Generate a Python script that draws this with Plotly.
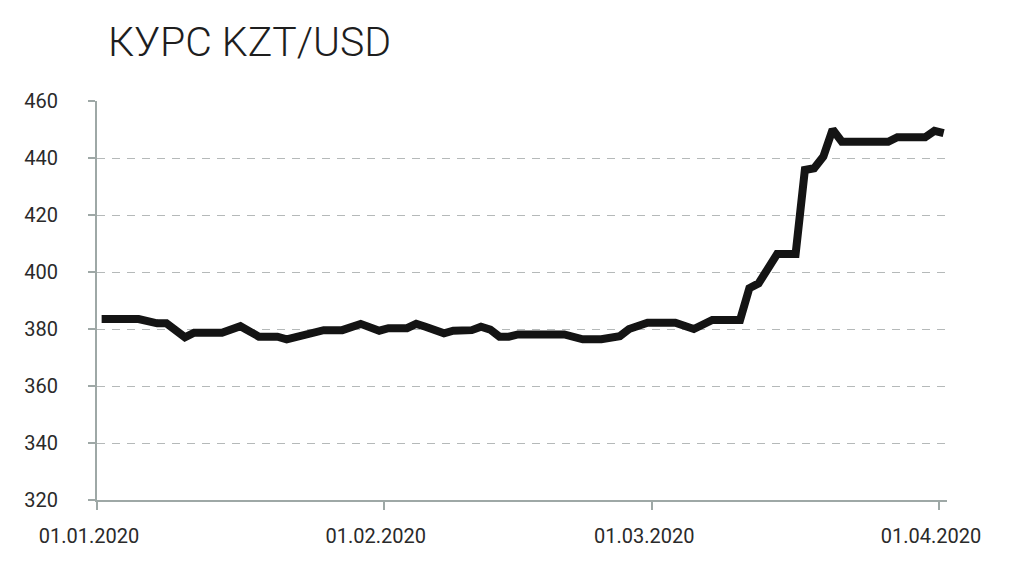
import plotly.graph_objects as go
import pandas as pd

# Day offsets from 01.01.2020 (vertices of the line)
day_offsets = [0, 4, 6, 7, 9, 10, 13, 15, 17, 19, 20, 24, 26, 28, 30, 31, 33, 34, 35,
               37, 38, 40, 41, 42, 43, 44, 45, 50, 52, 54, 56, 57, 59, 62, 64, 66, 69,
               70, 71, 73, 75, 76, 77, 78, 79, 80, 85, 86, 89, 90, 91]
rates = [383.5, 383.5, 382.0, 382.0, 377.1, 378.7, 378.7, 381.0, 377.3, 377.3, 376.4,
         379.6, 379.6, 381.8, 379.4, 380.3, 380.3, 381.8, 380.8, 378.5, 379.4, 379.6,
         380.8, 379.8, 377.3, 377.3, 378.1, 378.1, 376.4, 376.4, 377.5, 380.0, 382.2,
         382.2, 380.0, 383.2, 383.2, 394.3, 396.0, 406.3, 406.3, 435.8, 436.4, 440.5,
         450.0, 445.7, 445.7, 447.3, 447.3, 449.5, 448.7]

tick_dates = ["2020-01-01", "2020-02-01", "2020-03-01", "2020-04-01"]
tick_labels = ["01.01.2020", "01.02.2020", "01.03.2020", "01.04.2020"]
y_ticks = [320, 340, 360, 380, 400, 420, 440, 460]

title_text = "КУРС KZT/USD"

start = pd.Timestamp("2020-01-01 12:00")
dates = [start + pd.Timedelta(days=d) for d in day_offsets]

FONT = "Roboto, DejaVu Sans Condensed, sans-serif"
AXIS_COLOR = "#9ea8a6"

fig = go.Figure()
fig.add_trace(go.Scatter(
    x=dates, y=rates, mode="lines",
    line=dict(color="#141414", width=8),
    hoverinfo="skip", showlegend=False,
))

fig.update_layout(
    width=1024, height=579,
    margin=dict(l=89, r=85, t=93, b=87),
    paper_bgcolor="white", plot_bgcolor="white",
    title=dict(
        text=title_text,
        x=100 / 1024, xanchor="left", xref="container",
        y=1 - 34 / 579, yanchor="middle", yref="container",
        font=dict(family=FONT, size=41, color="#1e1e1e", weight=300),
    ),
    xaxis=dict(
        type="date",
        range=["2020-01-01 00:00", "2020-04-01 20:40"],
        tickvals=tick_dates, ticktext=tick_labels,
        ticks="outside", ticklen=8, tickwidth=2, tickcolor=AXIS_COLOR,
        showline=True, linecolor=AXIS_COLOR, linewidth=2,
        showgrid=False, zeroline=False,
        tickfont=dict(family=FONT, size=20, color="#2a2a2a"),
        ticklabelshift=-8, ticklabelstandoff=9,
    ),
    yaxis=dict(
        range=[320, 460],
        tickvals=y_ticks,
        ticks="outside", ticklen=7, tickwidth=2, tickcolor=AXIS_COLOR,
        showline=True, linecolor=AXIS_COLOR, linewidth=2,
        showgrid=True, gridcolor="#b5b9b9", gridwidth=1, griddash="8px,7px",
        zeroline=False,
        tickfont=dict(family=FONT, size=20, color="#2a2a2a"),
        ticklabelstandoff=26,
    ),
)

fig.write_html("out.html")
